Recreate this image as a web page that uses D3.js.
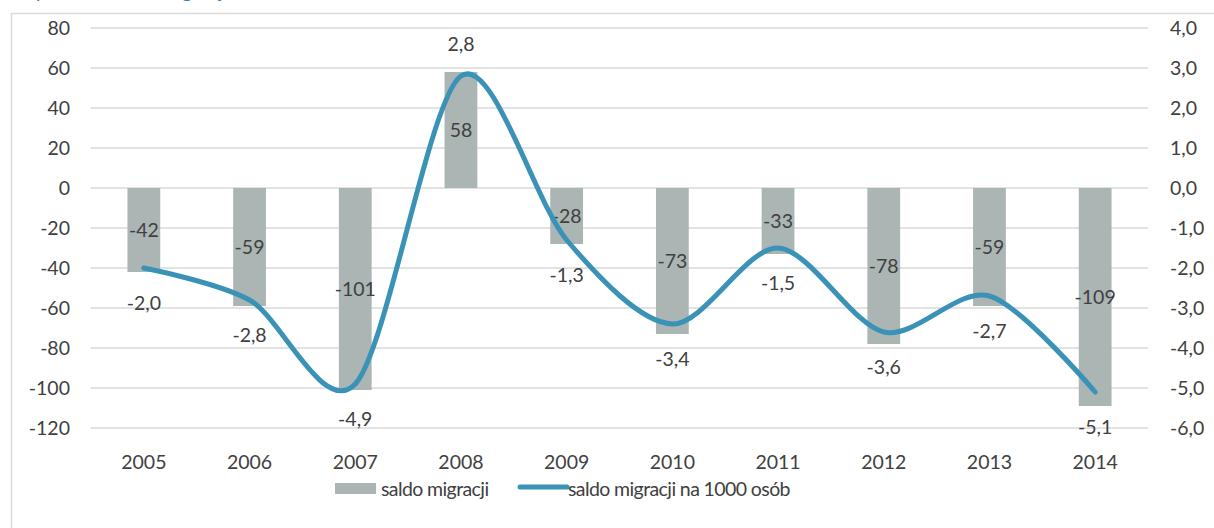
<!doctype html>
<html>
<head>
  <meta charset="utf-8">
  <style>
    body { margin: 0; background: #fff; }
    svg { display: block; font-family: Lato, "Open Sans", sans-serif; }
    .tick text { fill: #404040; font-size: 19.5px; }
  </style>
  <script src="https://cdn.jsdelivr.net/npm/d3@7/dist/d3.min.js"></script>
</head>
<body>
<script>
  // data
  var years = ["2005", "2006", "2007", "2008", "2009", "2010", "2011", "2012", "2013", "2014"];
  var saldo = [-42, -59, -101, 58, -28, -73, -33, -78, -59, -109];
  var saldoPer1000 = [-2.0, -2.8, -4.9, 2.8, -1.3, -3.4, -1.5, -3.6, -2.7, -5.1];
  var leftTicks = [80, 60, 40, 20, 0, -20, -40, -60, -80, -100, -120];
  var rightTicks = [4, 3, 2, 1, 0, -1, -2, -3, -4, -5, -6];
  var legendLabels = ["saldo migracji", "saldo migracji na 1000 osób"];

  var W = 1214, H = 528;
  var plotL = 91, plotR = 1148, plotT = 28, plotB = 428;
  var fs = "19.5px";

  var pl = d3.formatLocale({decimal: ",", thousands: " ", grouping: [3], currency: ["", ""], minus: "-"});
  var fInt = pl.format("d");
  var fDec = pl.format(".1f");

  var svg = d3.select("body").append("svg")
    .attr("width", W)
    .attr("height", H);

  // cropped title at the top and frame
  svg.append("text")
    .attr("x", 14)
    .attr("y", -2)
    .attr("fill", "#2f7fc1")
    .style("font-size", "20px")
    .text("Wykres 1. Saldo migracji");

  svg.append("path")
    .attr("d", "M11.5," + H + "V13.5H" + W)
    .attr("fill", "none")
    .attr("stroke", "#d9d9d9")
    .attr("stroke-width", 1.5);

  var x = d3.scaleBand().domain(years).range([plotL, plotR])
    .paddingInner(0.69).paddingOuter(0.345);
  var yL = d3.scaleLinear().domain([-120, 80]).range([plotB, plotT]);
  var yR = d3.scaleLinear().domain([-6, 4]).range([plotB, plotT]);

  // gridlines
  svg.append("g").selectAll("line")
    .data(leftTicks)
    .enter().append("line")
    .attr("x1", plotL).attr("x2", plotR)
    .attr("y1", function(d) { return yL(d); })
    .attr("y2", function(d) { return yL(d); })
    .attr("stroke", "#d9d9d9")
    .attr("stroke-width", 1.5);

  // axes
  var gl = svg.append("g").attr("transform", "translate(" + plotL + ",0)")
    .call(d3.axisLeft(yL).tickValues(leftTicks).tickSize(0).tickPadding(21).tickFormat(fInt));
  var gr = svg.append("g").attr("transform", "translate(" + plotR + ",0)")
    .call(d3.axisRight(yR).tickValues(rightTicks).tickSize(0).tickPadding(22).tickFormat(fDec));
  var gb = svg.append("g").attr("transform", "translate(0," + plotB + ")")
    .call(d3.axisBottom(x).tickSize(0).tickPadding(27));
  [gl, gr, gb].forEach(function(g) {
    g.select(".domain").remove();
    g.attr("font-family", null).attr("font-size", null);
  });

  // bars
  svg.append("g").selectAll("rect")
    .data(saldo)
    .enter().append("rect")
    .attr("x", function(d, i) { return x(years[i]); })
    .attr("y", function(d) { return yL(Math.max(0, d)); })
    .attr("width", x.bandwidth())
    .attr("height", function(d) { return Math.abs(yL(d) - yL(0)); })
    .attr("fill", "#aab5b4");

  // bar labels
  svg.append("g").selectAll("text")
    .data(saldo)
    .enter().append("text")
    .attr("x", function(d, i) { return x(years[i]) + x.bandwidth() / 2; })
    .attr("y", function(d) { return (yL(d) + yL(0)) / 2; })
    .attr("dy", "0.35em")
    .attr("text-anchor", "middle")
    .attr("fill", "#404040")
    .style("font-size", fs)
    .text(function(d) { return fInt(d); });

  // line
  var line = d3.line()
    .x(function(d, i) { return x(years[i]) + x.bandwidth() / 2; })
    .y(function(d) { return yR(d); })
    .curve(d3.curveCardinal.tension(0.1));

  svg.append("path")
    .datum(saldoPer1000)
    .attr("d", line)
    .attr("fill", "none")
    .attr("stroke", "#3a93b6")
    .attr("stroke-width", 5)
    .attr("stroke-linecap", "round");

  // line labels
  svg.append("g").selectAll("text")
    .data(saldoPer1000)
    .enter().append("text")
    .attr("x", function(d, i) { return x(years[i]) + x.bandwidth() / 2; })
    .attr("y", function(d) { return yR(d) + (d > 0 ? -32 : 35); })
    .attr("dy", "0.35em")
    .attr("text-anchor", "middle")
    .attr("fill", "#404040")
    .style("font-size", fs)
    .text(function(d) { return fDec(d); });

  // legend
  var lg = svg.append("g");
  lg.append("rect")
    .attr("x", 335).attr("y", 483)
    .attr("width", 41).attr("height", 11)
    .attr("fill", "#aab5b4");
  lg.append("text")
    .attr("x", 381).attr("y", 489).attr("dy", "0.35em")
    .attr("fill", "#404040").style("font-size", fs)
    .style("letter-spacing", "-0.6px")
    .text(legendLabels[0]);
  lg.append("line")
    .attr("x1", 520).attr("x2", 567)
    .attr("y1", 487).attr("y2", 487)
    .attr("stroke", "#3a93b6").attr("stroke-width", 5)
    .attr("stroke-linecap", "round");
  lg.append("text")
    .attr("x", 568).attr("y", 489).attr("dy", "0.35em")
    .attr("fill", "#404040").style("font-size", fs)
    .style("letter-spacing", "-0.6px")
    .text(legendLabels[1]);
</script>
</body>
</html>
